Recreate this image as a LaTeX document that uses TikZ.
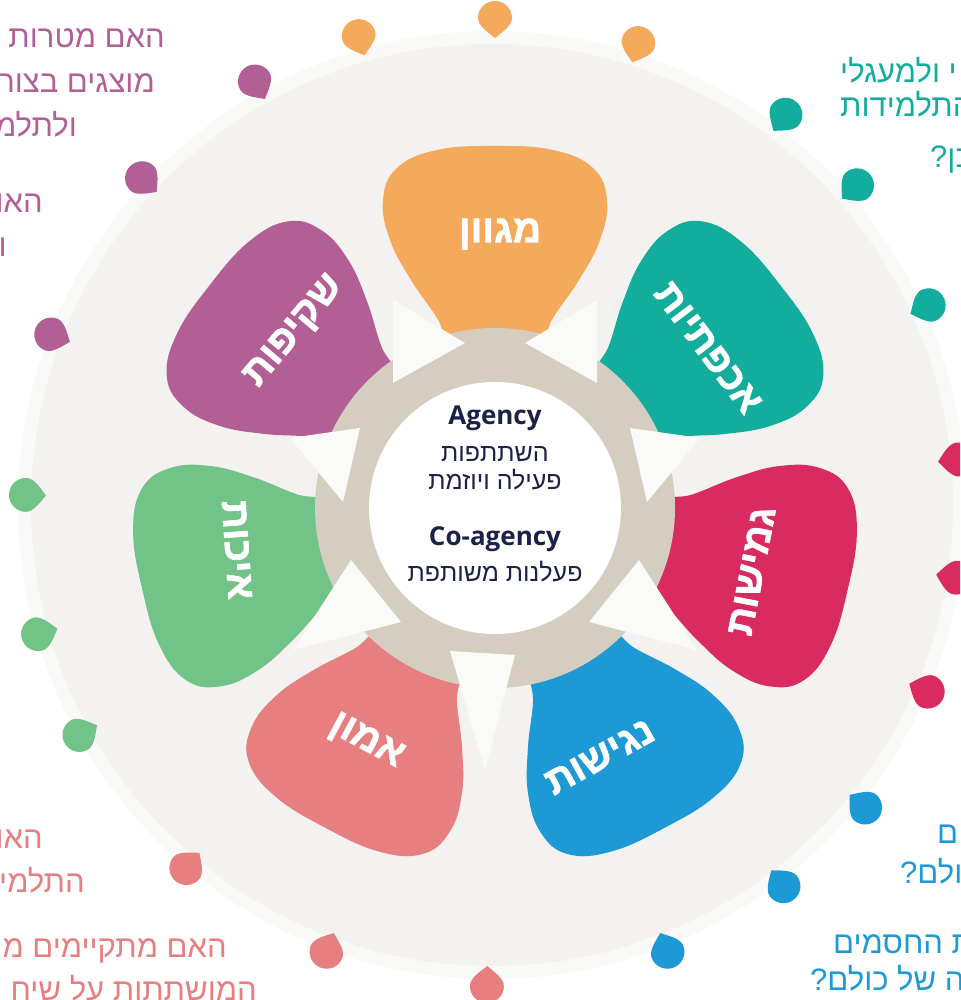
\documentclass[tikz,border=0pt]{standalone}
\usepackage{fontspec}
\setmainfont{Liberation Sans}
\newfontfamily\hebfont[Script=Hebrew]{Liberation Sans}
\newfontfamily\hebbold[Script=Hebrew, BoldFeatures={FakeBold=1.6}]{Liberation Sans}
\newfontfamily\latfont{Open Sans}
\TeXXeTstate=1
\usetikzlibrary{positioning}
\definecolor{cOrange}{HTML}{F5A95A}
\definecolor{cTeal}{HTML}{13AD9E}
\definecolor{cCrimson}{HTML}{D92B60}
\definecolor{cBlue}{HTML}{1D9AD6}
\definecolor{cSalmon}{HTML}{E77F80}
\definecolor{cGreen}{HTML}{72C387}
\definecolor{cPurple}{HTML}{B25F96}
\definecolor{ringbeige}{HTML}{D5CDC0}
\definecolor{diskgray}{HTML}{F3F2F0}
\definecolor{diskhalo}{HTML}{F9F9F8}
\definecolor{gapwhite}{HTML}{FAFAF9}
\definecolor{navy}{HTML}{1B2248}
\tikzset{
  petallabel/.style={text=white, inner sep=0pt, font=\hebbold\bfseries\fontsize{39}{44}\selectfont},
  sidetext/.style={text=#1, inner sep=0pt, font=\hebfont\fontsize{31}{36}\selectfont},
  centerlat/.style={text=navy, inner sep=0pt, anchor=base, font=\latfont\bfseries\fontsize{26}{30}\selectfont},
  centerheb/.style={text=navy, inner sep=0pt, anchor=base, font=\hebfont\fontsize{25}{30}\selectfont},
  gap/.style={fill=gapwhite}
}
\begin{document}
\begin{tikzpicture}[x=1pt,y=1pt]
\useasboundingbox (-495,-492) rectangle (465,508);
\clip (-495,-492) rectangle (465,508);
\fill[diskhalo] (-3,3) circle (474);
\fill[diskgray] (-3,3) circle (461);
\foreach \px/\py/\col in {-135/468/cOrange,0/486/cOrange,142/461/cOrange,
  288/390/cTeal,359/320/cTeal,430/201/cTeal,
  459/48/cCrimson,457/-69/cCrimson,429/-182/cCrimson,
  367/-297/cBlue,286/-375/cBlue,171/-440/cBlue,
  -8/-474/cSalmon,-167/-440/cSalmon,-306/-357/cSalmon,
  -412/-225/cGreen,-453/-125/cGreen,-465/13/cGreen,
  -440/172/cPurple,-350/327/cPurple,-238/423/cPurple}{
  \pgfmathsetmacro{\ang}{atan2(\py,\px)-90}
  \fill[\col, shift={(\px,\py)}, rotate=\ang] (0,-16) .. controls (-6,-11) and (-17,-4) .. (-17,4)
    arc[start angle=180, end angle=0, radius=17] .. controls (17,-4) and (6,-11) .. (0,-16) -- cycle;
}
\foreach \ang/\col in {90/cOrange,38/cTeal,-13/cCrimson,-62/cBlue,242/cSalmon,193/cGreen,142/cPurple}
  \fill[\col, rotate=\ang-90] plot[smooth cycle, tension=0.7] coordinates {(-35,150) (35,150) (58,190)
    (84,228) (105,268) (112,308) (98,340) (58,358) (0,362) (-58,358) (-98,340) (-112,308) (-105,268) (-84,228) (-58,190)};
\fill[ringbeige] (0,0) circle (180);
\fill[gap] (-30,165) -- (-102,208) -- (-102,125) -- cycle;
\fill[gap] (30,165) -- (102,208) -- (102,125) -- cycle;
\fill[gap] (135,80) -- (205,70) -- (152,6) -- cycle;
\fill[gap] (-135,80) -- (-205,70) -- (-152,6) -- cycle;
\fill[gap] (94,-114) -- (144,-52) -- (202,-142) -- cycle;
\fill[gap] (-94,-114) -- (-144,-52) -- (-202,-142) -- cycle;
\fill[gap] (-45,-143) -- (20,-147) -- (-10,-262) -- cycle;
\fill[white] (0,0) circle (126);

\node[centerlat] (agency) at (0,83) {Agency};
\node[centerheb] (agencyA) at (0,46) {\beginR השתתפות\endR};
\node[centerheb] (agencyB) at (0,18) {\beginR פעילה ויוזמת\endR};
\node[centerlat] (coagency) at (0,-38) {Co-agency};
\node[centerheb] (coagencyA) at (0,-74) {\beginR פעלנות משותפת\endR};

\node[petallabel] (variety) at (5,274) {\beginR מגוון\endR};
\node[petallabel, rotate=-53] (caring) at (213,160) {\beginR אכפתיות\endR};
\node[petallabel, rotate=79] (flexibility) at (257,-63) {\beginR גמישות\endR};
\node[petallabel, rotate=29] (access) at (105,-249) {\beginR נגישות\endR};
\node[petallabel, rotate=-28] (trust) at (-129,-234) {\beginR אמון\endR};
\node[petallabel, rotate=-86] (quality) at (-258,-42) {\beginR איכות\endR};
\node[petallabel, rotate=50] (transparency) at (-200,176) {\beginR שקיפות\endR};

\node[sidetext=cPurple, anchor=base east] (transpA) at (-330,460) {\beginR האם מטרות\endR};
\node[sidetext=cPurple, anchor=base east] (transpB) at (-340,415) {\beginR מוצגים בצור\endR};
\node[sidetext=cPurple, anchor=base east] (transpC) at (-418,371) {\beginR ולתלמ\endR};
\node[sidetext=cPurple, anchor=base east] (transpD) at (-452,295) {\beginR האו\endR};
\node[sidetext=cPurple, anchor=base east] (transpE) at (-488,251) {\beginR ו\endR};

\node[sidetext=cTeal, anchor=base west] (caringA) at (345,425) {\beginR י ולמעגלי\endR};
\node[sidetext=cTeal, anchor=base west] (caringB) at (345,391) {\beginR התלמידות\endR};
\node[sidetext=cTeal, anchor=base west] (caringC) at (435,340) {\beginR כן?\endR};

\node[sidetext=cBlue, anchor=base west] (accessA) at (442,-335) {\beginR ם\endR};
\node[sidetext=cBlue, anchor=base west] (accessB) at (405,-375) {\beginR ולם?\endR};
\node[sidetext=cBlue, anchor=base west] (accessC) at (338,-445) {\beginR ת החסמים\endR};
\node[sidetext=cBlue, anchor=base west] (accessD) at (315,-482) {\beginR ה של כולם?\endR};

\node[sidetext=cSalmon, anchor=base east] (trustA) at (-452,-340) {\beginR האו\endR};
\node[sidetext=cSalmon, anchor=base east] (trustB) at (-410,-384) {\beginR התלמי\endR};
\node[sidetext=cSalmon, anchor=base east] (trustC) at (-268,-449) {\beginR האם מתקיימים מ\endR};
\node[sidetext=cSalmon, anchor=base east] (trustD) at (-238,-492) {\beginR המושתתות על שיח\endR};
\end{tikzpicture}
\end{document}
